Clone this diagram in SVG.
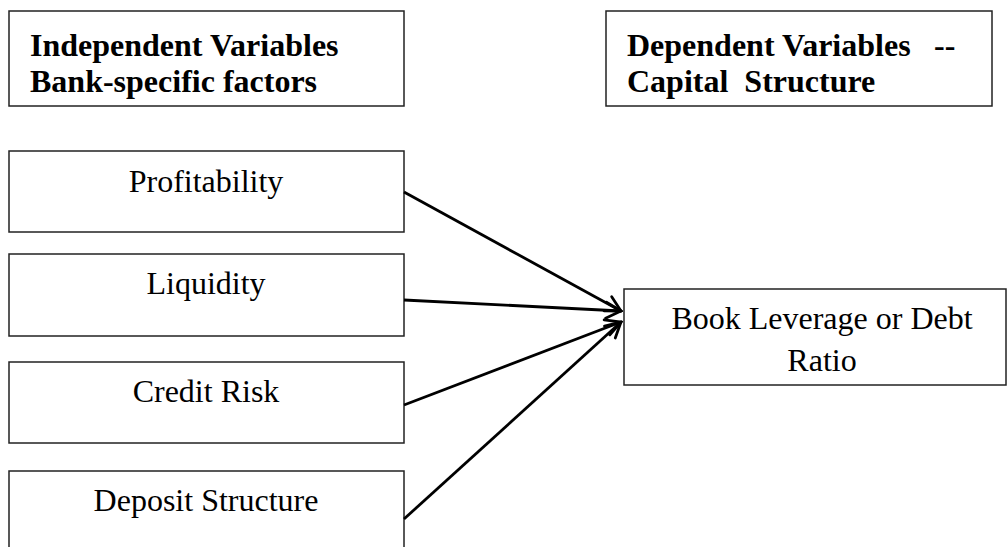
<svg xmlns="http://www.w3.org/2000/svg" width="1008" height="547" viewBox="0 0 1008 547">
<style>
.box{fill:#fff;stroke:#222;stroke-width:1.5}
.hd{font-family:"Liberation Serif","Times New Roman",serif;font-weight:bold;font-size:32px;fill:#000}
.lb{font-family:"Liberation Serif","Times New Roman",serif;font-size:32px;fill:#000;text-anchor:middle}
.cn{stroke:#000;stroke-width:2.8;fill:none}
</style>
<defs>
<marker id="arr" viewBox="0 0 20 20" refX="18" refY="10" markerWidth="20" markerHeight="20" markerUnits="userSpaceOnUse" orient="auto">
<path d="M3,2 L18,10 L3,18" fill="none" stroke="#000" stroke-width="2.8" stroke-linecap="round" stroke-linejoin="miter"/>
</marker>
</defs>
<rect width="1008" height="547" fill="#fff"/>
<g id="header-independent">
<rect class="box" x="9" y="11" width="395" height="95"/>
<text class="hd" x="30" y="56">Independent Variables</text>
<text class="hd" x="30" y="92">Bank-specific factors</text>
</g>
<g id="header-dependent">
<rect class="box" x="606" y="11" width="386" height="95"/>
<text class="hd" x="627" y="56" xml:space="preserve">Dependent Variables <tspan x="934">--</tspan></text>
<text class="hd" x="627" y="92" xml:space="preserve">Capital  Structure</text>
</g>
<g id="profitability">
<rect class="box" x="9" y="151" width="395" height="81"/>
<text class="lb" x="206" y="192">Profitability</text>
</g>
<g id="liquidity">
<rect class="box" x="9" y="254" width="395" height="82"/>
<text class="lb" x="206" y="294">Liquidity</text>
</g>
<g id="credit-risk">
<rect class="box" x="9" y="362" width="395" height="81"/>
<text class="lb" x="206" y="402">Credit Risk</text>
</g>
<g id="deposit-structure">
<rect class="box" x="9" y="471" width="395" height="90"/>
<text class="lb" x="206" y="511">Deposit Structure</text>
</g>
<g id="book-leverage">
<rect class="box" x="624" y="289" width="382" height="96"/>
<text class="lb" x="822" y="329">Book Leverage or Debt</text>
<text class="lb" x="822" y="371">Ratio</text>
</g>
<g id="connectors">
<line class="cn" x1="404" y1="192" x2="621" y2="311" marker-end="url(#arr)"/>
<line class="cn" x1="404" y1="300" x2="621" y2="311" marker-end="url(#arr)"/>
<line class="cn" x1="404" y1="405" x2="621" y2="322" marker-end="url(#arr)"/>
<line class="cn" x1="404" y1="519" x2="621" y2="322" marker-end="url(#arr)"/>
</g>
</svg>
